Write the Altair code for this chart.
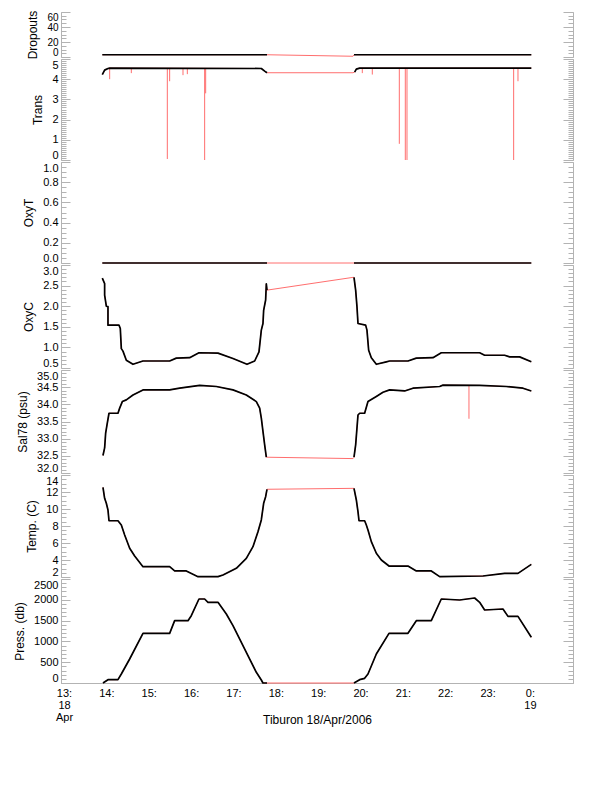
import json
import altair as alt
import pandas as pd

# ---------------- data (time in hours since 00:00 18 Apr 2006) ----------------
XDOM = [12.929, 25.016]
GAP = (17.80, 19.84)

x_tick_hours = [13, 14, 15, 16, 17, 18, 19, 20, 21, 22, 23, 24]
x_tick_labels = [["13:", "18", "Apr"], ["14:"], ["15:"], ["16:"], ["17:"], ["18:"],
                 ["19:"], ["20:"], ["21:"], ["22:"], ["23:"], ["0:", "19"]]

drop_t = [13.904, 17.792, 19.822, 19.846, 24.032]
drop_v = [3, 3, 1, 3, 3]

trans_t = [13.904, 13.959, 14.038, 14.078, 17.658, 17.737, 17.792, 19.822, 19.861,
           19.901, 19.979, 24.032]
trans_v = [4.23, 4.45, 4.53, 4.55, 4.53, 4.40, 4.32, 4.32, 4.35, 4.50, 4.55, 4.55]
trans_spike_t = [14.078, 14.589, 15.439, 15.494, 15.809, 15.911, 16.320, 16.344,
                 20.042, 20.278, 20.916, 21.057, 21.097, 23.615, 23.717]
trans_spike_v = [4.0, 4.3, 0.05, 3.9, 4.2, 4.25, 0.0, 3.3, 4.3, 4.23, 0.8, 0.0, 0.0,
                 0.0, 3.9]
trans_base = 4.55

oxyt_t = [13.904, 17.792, 19.846, 24.032]
oxyt_v = [0, 0, 0, 0]

oxyc_t = [13.904, 13.959, 13.959, 13.999, 14.038, 14.038, 14.298, 14.329, 14.353,
          14.392, 14.471, 14.628, 14.864, 15.494, 15.651, 15.966, 16.186, 16.635,
          16.989, 17.320, 17.501, 17.603, 17.658, 17.697, 17.713, 17.760, 17.776,
          17.792, 19.822, 19.846, 19.885, 19.916, 19.940, 20.121, 20.152, 20.192,
          20.255, 20.373, 20.609, 20.687, 21.120, 21.317, 21.710, 21.907, 22.812,
          22.930, 23.402, 23.520, 23.756, 24.032]
oxyc_v = [2.68, 2.55, 2.27, 2.00, 1.99, 1.54, 1.54, 1.46, 0.97, 0.91, 0.69, 0.59,
          0.67, 0.67, 0.74, 0.75, 0.87, 0.86, 0.73, 0.59, 0.67, 0.89, 1.42, 1.58,
          1.90, 2.15, 2.54, 2.39, 2.70, 2.70, 2.39, 1.99, 1.58, 1.54, 1.42, 0.93,
          0.75, 0.59, 0.65, 0.67, 0.67, 0.74, 0.75, 0.87, 0.87, 0.81, 0.81, 0.77,
          0.77, 0.65]

sal_t = [13.920, 13.959, 13.983, 14.015, 14.062, 14.274, 14.314, 14.377, 14.471,
         14.628, 14.864, 15.494, 15.730, 16.202, 16.596, 16.989, 17.304, 17.540,
         17.619, 17.658, 17.697, 17.737, 17.776, 19.822, 19.846, 19.885, 19.940,
         19.979, 20.097, 20.176, 20.215, 20.373, 20.530, 20.687, 21.042, 21.238,
         21.868, 21.947, 22.812, 23.442, 23.835, 24.032]
sal_v = [32.51, 32.73, 33.16, 33.40, 33.74, 33.74, 33.89, 34.08, 34.13, 34.27, 34.42,
         34.42, 34.47, 34.55, 34.52, 34.42, 34.27, 34.08, 33.89, 33.60, 33.21, 32.82,
         32.46, 32.42, 32.46, 32.82, 33.69, 33.74, 33.74, 34.08, 34.11, 34.23, 34.35,
         34.42, 34.39, 34.47, 34.52, 34.56, 34.55, 34.52, 34.47, 34.39]
sal_spike_t = [22.560]
sal_spike_v = [33.58]
sal_base = 34.56

temp_t = [13.920, 13.959, 13.999, 14.038, 14.062, 14.274, 14.353, 14.432, 14.550,
          14.668, 14.864, 15.494, 15.612, 15.887, 16.163, 16.635, 16.753, 17.068,
          17.304, 17.461, 17.579, 17.658, 17.713, 17.760, 17.792, 19.822, 19.846,
          19.901, 19.940, 19.964, 20.097, 20.137, 20.176, 20.255, 20.373, 20.491,
          20.672, 21.120, 21.317, 21.671, 21.868, 22.891, 23.402, 23.717, 24.032]
temp_v = [12.55, 11.26, 10.67, 9.88, 8.62, 8.62, 8.12, 6.94, 5.38, 4.47, 3.21, 3.21,
          2.71, 2.71, 2.04, 2.04, 2.24, 3.02, 4.20, 5.57, 7.33, 8.71, 10.67, 11.45,
          12.32, 12.43, 12.43, 11.06, 9.68, 8.62, 8.62, 8.12, 7.53, 6.16, 4.79, 4.00,
          3.29, 3.29, 2.71, 2.71, 2.04, 2.12, 2.43, 2.43, 3.49]

press_t = [13.920, 14.038, 14.274, 14.353, 14.550, 14.864, 15.494, 15.612, 15.927,
           16.005, 16.186, 16.320, 16.399, 16.635, 16.832, 16.989, 17.304, 17.540,
           17.658, 17.697, 17.792, 19.822, 19.846, 19.979, 20.097, 20.176, 20.373,
           20.672, 21.120, 21.317, 21.671, 21.907, 22.340, 22.694, 22.812, 22.930,
           23.363, 23.481, 23.717, 24.032]
press_v = [0, 80, 80, 216, 577, 1194, 1194, 1498, 1498, 1618, 2019, 2019, 1940, 1940,
           1659, 1378, 738, 257, 72, 0, 0, 0, 0, 80, 112, 216, 697, 1194, 1194, 1498,
           1498, 2019, 1995, 2043, 1940, 1755, 1779, 1602, 1602, 1098]

# ---------------- styling ----------------
W = 512
RED = "#ff6e6e"
AXC = "#b3b3b3"
FONT = "Liberation Sans"


def make_df(t, v):
    rows = []
    for i, (a, b) in enumerate(zip(t, v)):
        seg = 1 if a <= GAP[0] else (2 if a >= GAP[1] else 0)
        rows.append({"t": a, "v": b, "i": i, "seg": seg})
    return pd.DataFrame(rows)


def tick_axis(orient, values, size, domain):
    return alt.Axis(orient=orient, offset=-W, values=values, tickSize=size,
                    tickColor=AXC, tickWidth=1, labels=False, domain=domain,
                    domainColor=AXC, grid=False, title=None)


def frange(a, b, step):
    n = int(round((b - a) / step))
    return [round(a + k * step, 6) for k in range(n + 1)]


def x_label_expr():
    expr = "''"
    for h, lab in reversed(list(zip(x_tick_hours, x_tick_labels))):
        expr = f"datum.value == {h} ? {json.dumps(lab)} : ({expr})"
    return expr


def panel(t, v, title, dom, major, minor, h, fmt, spikes=None, bottom=False, lfs=11):
    df = make_df(t, v)
    xs = alt.Scale(domain=XDOM, nice=False, zero=False)
    if bottom:
        xaxis = alt.Axis(orient="bottom", values=x_tick_hours, labelExpr=x_label_expr(),
                         ticks=False, domain=True, domainColor=AXC, grid=False,
                         labelFont=FONT, labelFontSize=11, labelColor="black",
                         labelAlign="center", labelBaseline="top", labelPadding=4,
                         labelLineHeight=12, labelOverlap=False, labelFlush=False,
                         title="Tiburon 18/Apr/2006", titleFont=FONT, titleFontSize=12,
                         titleFontWeight="normal", titleColor="black", titleY=40,
                         titleBaseline="alphabetic")
    else:
        xaxis = None
    X = alt.X("t:Q", scale=xs, axis=xaxis)
    ys = alt.Scale(domain=dom, nice=False, zero=False)
    label_ax = alt.Axis(orient="left", values=major, format=fmt, ticks=False,
                        domain=True, domainColor=AXC, grid=False, labelFlush=True,
                        labelOverlap=False, labelPadding=3, labelFont=FONT,
                        labelFontSize=lfs, labelColor="black", title=title,
                        titleFont=FONT, titleFontSize=12, titleFontWeight="normal",
                        titleColor="black", titlePadding=7)
    base = alt.Chart(df)
    layers = [
        base.mark_line(color=RED, strokeWidth=1, strokeJoin="round").encode(
            x=X, y=alt.Y("v:Q", scale=ys, axis=label_ax), order="i:Q"),
        base.mark_line(opacity=0).encode(
            x=X, y=alt.Y("v:Q", scale=ys, axis=tick_axis("right", major, 9, False))),
        base.mark_line(opacity=0).encode(
            x=X, y=alt.Y("v:Q", scale=ys, axis=tick_axis("right", minor, 5, False))),
        base.mark_line(opacity=0).encode(
            x=X, y=alt.Y("v:Q", scale=ys, axis=tick_axis("left", major, 10, True))),
        base.mark_line(opacity=0).encode(
            x=X, y=alt.Y("v:Q", scale=ys, axis=tick_axis("left", minor, 5, False))),
    ]
    if spikes is not None:
        st, sv, sb = spikes
        sdf = pd.DataFrame({"t": st, "v": sv, "b": [sb] * len(st)})
        layers.append(alt.Chart(sdf).mark_rule(color=RED, strokeWidth=1).encode(
            x=X, y=alt.Y("v:Q", scale=ys, axis=None), y2="b:Q"))
    layers.append(base.transform_filter("datum.seg > 0").mark_line(
        color="black", strokeWidth=1.7, strokeJoin="round").encode(
        x=X, y=alt.Y("v:Q", scale=ys, axis=None), detail="seg:N", order="i:Q"))
    return alt.layer(*layers).resolve_axis(y="independent").properties(width=W, height=h)


p_drop = panel(drop_t, drop_v, "Dropouts", [0, 60], [0, 20, 40, 60], frange(0, 60, 5),
               45, "d", lfs=10)
p_trans = panel(trans_t, trans_v, "Trans", [0, 5], [0, 1, 2, 3, 4, 5], frange(0, 5, 0.1),
                101, "d", spikes=(trans_spike_t, trans_spike_v, trans_base))
p_oxyt = panel(oxyt_t, oxyt_v, "OxyT", [0, 1], frange(0, 1, 0.2), frange(0, 1, 0.05),
               101, ".1f")
p_oxyc = panel(oxyc_t, oxyc_v, "OxyC", [0.5, 3.0], frange(0.5, 3.0, 0.5),
               frange(0.5, 3.0, 0.1), 103, ".1f")
p_sal = panel(sal_t, sal_v, "Sal78 (psu)", [32, 35], frange(32, 35, 0.5),
              frange(32, 35, 0.1), 103, ".1f", spikes=(sal_spike_t, sal_spike_v, sal_base))
p_temp = panel(temp_t, temp_v, "Temp. (C)", [2, 14], frange(2, 14, 2), frange(2, 14, 0.5),
               102, "d")
p_press = panel(press_t, press_v, "Press. (db)", [0, 2500], frange(0, 2500, 500),
                frange(0, 2500, 100), 104, "d", bottom=True)

chart = alt.vconcat(p_drop, p_trans, p_oxyt, p_oxyc, p_sal, p_temp, p_press,
                    spacing=2, bounds="flush").properties(
    padding={"left": 5, "top": 2, "right": 5, "bottom": 5}
).configure_view(stroke=None)

chart.save("out.html", embed_options={"renderer": "svg", "actions": False})
